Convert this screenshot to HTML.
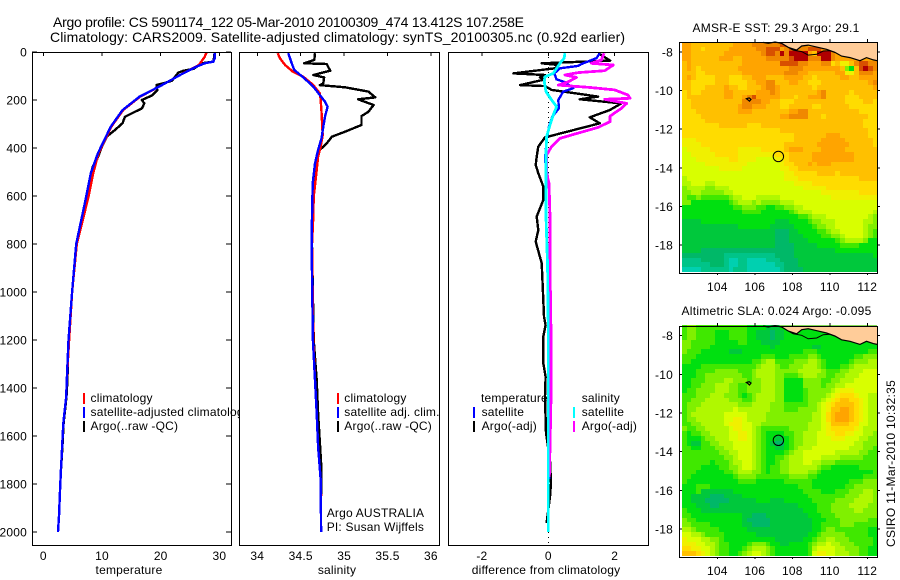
<!DOCTYPE html>
<html>
<head>
<meta charset="utf-8">
<title>Argo profile</title>
<style>
html,body{margin:0;padding:0;background:#fff;}
svg{display:block;}
text{font-family:"Liberation Sans",sans-serif;font-size:12px;fill:#000;letter-spacing:.2px;}
.crisp{shape-rendering:crispEdges;}
</style>
</head>
<body>
<svg id="chart" xmlns="http://www.w3.org/2000/svg" width="900" height="580" viewBox="0 0 900 580">
<rect width="900" height="580" fill="#fff"/>
<text x="53" y="27" style="font-size:14px;letter-spacing:0" textLength="471">Argo profile: CS 5901174_122 05-Mar-2010 20100309_474 13.412S 107.258E</text>
<text x="50" y="42" style="font-size:14px;letter-spacing:0" textLength="575">Climatology: CARS2009. Satellite-adjusted climatology: synTS_20100305.nc (0.92d earlier)</text>
<g id="p1"></g>
<g id="p2"></g>
<g id="p3"></g>
<g id="m1"></g>
<g id="m2"></g>
<text x="692.5" y="32" textLength="167">AMSR-E SST: 29.3 Argo: 29.1</text>
<text x="681.5" y="315" textLength="190">Altimetric SLA: 0.024 Argo: -0.095</text>
<text transform="translate(895,547) rotate(-90)" textLength="167">CSIRO 11-Mar-2010 10:32:35</text>
</svg>
<script>
/* ---------- profile data ---------- */
const tempClimDepth = [2,20,54,96,142,186,242,311,367,422,505,603,800,1000,1200,1367,1436,1547,1647,1745,1828,1925,2000];
const tempClimValue = [27.8,27.5,26.5,23.3,19.9,16.5,13.6,11.6,10.5,9.4,8.5,7.7,5.7,4.9,4.4,4.0,3.9,3.4,3.2,3.0,2.85,2.7,2.5];
const tempSatDepth = [2,26,40,47,61,96,142,186,242,311,367,422,505,603,800,1000,1200,1367,1436,1547,1647,1745,1828,1925,2000];
const tempSatValue = [29.2,29.2,29,27.5,26.1,23.3,19.9,16.4,13.5,11.5,10.4,9.3,8.1,7.3,5.6,4.9,4.3,4.0,3.9,3.4,3.2,3.0,2.85,2.7,2.5];
const tempArgoDepth = [2,40,47,70,78,86,120,130,137,160,180,200,214,235,253,270,297,325,353,394,450,478,561,603,800,1000,1200,1367,1436,1547,1647,1745,1828,1925,2000];
const tempArgoValue = [29.2,29,27,25.6,23.9,23,21.9,20.5,19.3,19.4,18.6,16.8,17.2,16.8,15.3,13.9,13.5,12.2,10.8,10,9.1,8.4,7.9,7.5,5.6,4.9,4.3,4.1,3.95,3.45,3.25,3.0,2.85,2.7,2.5];

const salClimDepth = [5,26,54,82,103,138,172,200,249,346,394,436,519,603,686,800,1200,1367,1505,1644,1783,1850];
const salClimValue = [34.235,34.26,34.32,34.41,34.53,34.645,34.72,34.73,34.74,34.753,34.73,34.70,34.676,34.65,34.645,34.63,34.645,34.665,34.684,34.70,34.73,34.735];
const salSatDepth = [5,47,75,106,144,179,207,228,269,311,360,408,464,547,686,800,1200,1367,1505,1644,1783,2000];
const salSatValue = [34.357,34.396,34.426,34.53,34.645,34.72,34.78,34.81,34.78,34.76,34.74,34.70,34.665,34.638,34.63,34.625,34.64,34.665,34.684,34.70,34.73,34.735];
const salArgoDepth = [5,33,47,50,78,96,106,131,138,147,165,189,197,221,249,267,304,332,353,381,408,450,533,686,800,1200,1367,1505,1713,1850];
const salArgoValue = [34.665,34.657,34.54,34.80,34.84,34.645,34.77,34.76,34.72,35.01,35.28,35.36,35.16,35.34,35.28,35.2,35.2,35.01,34.86,34.80,34.72,34.68,34.65,34.64,34.63,34.65,34.684,34.70,34.735,34.74];

const diffTempSatDepth = [5,26,50,58,68,89,114,126,151,165,200,235,269,311,367,450,533,617,895,1172,1367,1644,1780];
const diffTempSatValue = [1.55,1.45,1.0,.9,.35,.18,.25,.5,.75,.45,.3,.32,.12,.02,-.05,-.1,0,.05,.05,.08,.05,.05,.03];
const diffSalSatDepth = [5,26,47,89,103,124,165,200,228,262,304,353,422,505,686,895,1172,1367,1644,2000];
const diffSalSatValue = [.5,.48,.35,.15,-.1,-.12,-.07,.1,.25,.15,.05,-.05,-.07,-.07,-.07,-.02,0,0,0,0];
const diffTempArgoDepth = [5,36,47,54,68,89,96,106,114,138,142,158,186,197,214,242,272,297,356,394,436,471,505,561,617,686,742,790,880,1033,1103,1138,1186,1297,1353,1437,1588,1700,1797,1852,1962];
const diffTempArgoValue = [1.5,1.86,-.2,.3,.2,-1.05,-.1,-.25,-.1,-.85,-.1,.1,1.5,.95,2.2,1.85,1.25,1.55,-.1,-.3,-.35,-.38,-.3,-.15,-.15,-.35,-.3,-.38,-.2,-.15,-.13,-.08,-.15,-.15,-.08,-.1,-.07,.05,.08,.05,-.05];
const diffSalArgoDepth = [5,33,47,54,78,86,96,106,124,138,147,158,179,193,197,214,235,267,290,314,346,360,394,429,505,547,686,895,1172,1437,1644,1770];
const diffSalArgoValue = [1.68,1.6,1.3,1.96,1.7,.9,.5,.85,.6,.3,1.2,2,2.4,2.46,1.7,2.36,2.2,1.86,1.86,1.5,.7,.35,.1,-.05,-.05,.02,.05,.05,.08,.08,.05,.03];

/* ---------- axis ticks ---------- */
const depthTicks = [0,200,400,600,800,1000,1200,1400,1600,1800,2000];
const tempTicks = [0,10,20,30];
const salTicks = [34,34.5,35,35.5,36];
const diffTicks = [-2,0,2];
const lonTicks = [104,106,108,110,112];
const latTicks = [-8,-10,-12,-14,-16,-18];

/* ---------- map data ---------- */
const coastLon = [106.45,106.72,107.08,107.43,107.79,108.23,108.5,108.85,109.39,109.83,110.28,110.63,111.08,111.61,111.96,112.32,112.53];
const coastLat = [-7.5,-7.55,-7.48,-7.55,-7.76,-7.9,-7.69,-7.64,-7.76,-7.86,-8.02,-8.21,-8.29,-8.45,-8.29,-8.41,-8.45];
const coastInnerLon = [107.79,108.05,108.5,108.85,109.3,109.65,110,110.28];
const coastInnerLat = [-7.76,-7.9,-7.98,-8.16,-8.12,-7.95,-7.93,-8.02];
const islandLon = [105.55,105.7,105.8,105.72,105.62,105.55];
const islandLat = [-10.42,-10.38,-10.45,-10.55,-10.47,-10.42];
const profileLon = [107.258];
const profileLat = [-13.412];
const landLon = [107.3,107.43,107.79,108.23,108.5,108.85,109.39,109.83,110.28,110.63,111.08,111.61,111.96,112.32,112.53,112.53];
const landLat = [-7.47,-7.55,-7.76,-7.9,-7.69,-7.64,-7.76,-7.86,-8.02,-8.21,-8.29,-8.45,-8.29,-8.41,-8.45,-7.47];
const levelColors = ['#00d0b0','#00c488','#00b868','#00c83c','#00e010','#40e800','#80f000','#b0f800','#d8ff00','#f0f000','#ffdc00','#ffc000','#ffa400','#f08800','#d85000','#b00000'];

const sstGrid = [
[12,12,11,11,11,11,11,11,11,11,11,12,12,12,12,13,13,13,13,13,13,14,14,14,14,13,13,12,12,12,12,12,12,12,12,12,12,12,12,12,12,12],
[12,12,11,11,10,11,11,11,11,11,12,12,12,12,12,12,13,13,14,14,14,12,13,14,14,13,13,14,14,14,13,12,12,12,12,12,12,12,12,12,12,12],
[12,12,11,11,11,11,11,11,11,12,12,12,12,12,12,12,12,13,14,14,13,15,13,15,15,15,15,12,11,15,15,15,13,12,12,12,12,12,12,12,12,12],
[12,12,11,11,11,11,11,11,12,12,12,11,11,12,12,12,12,12,13,13,13,13,13,14,15,15,15,13,13,13,15,15,13,12,12,12,12,12,12,12,12,12],
[11,12,11,11,11,11,11,11,11,11,11,11,11,12,12,12,12,12,12,12,12,14,14,14,14,13,13,12,12,12,13,13,10,11,9,9,11,13,14,14,13,13],
[11,12,11,10,11,11,11,11,11,11,11,11,12,12,12,12,12,12,12,12,12,12,12,13,13,13,12,12,12,12,12,12,12,12,11,6,4,11,14,15,14,13],
[11,11,11,10,10,11,11,11,11,11,11,11,11,12,12,12,12,12,12,12,12,12,13,13,13,12,12,11,11,11,11,11,11,12,12,9,9,11,13,13,13,12],
[11,12,11,10,10,10,10,11,11,11,10,10,10,11,11,12,12,12,11,11,11,11,12,12,12,12,11,11,10,11,11,11,11,11,12,12,11,11,12,12,12,12],
[11,11,10,10,10,10,10,11,11,11,10,10,10,10,11,11,12,12,13,13,11,11,11,12,12,11,11,10,10,10,11,11,11,11,11,11,11,11,11,11,12,13],
[11,11,10,10,10,11,11,11,11,12,11,11,10,10,11,11,11,12,13,13,12,11,11,11,11,11,11,11,10,11,11,11,11,11,11,11,11,11,11,11,11,12],
[10,11,10,10,11,11,11,11,11,12,12,11,11,11,11,11,12,12,12,13,12,11,11,11,11,11,11,11,11,12,13,11,11,11,11,11,10,11,11,11,11,11],
[10,11,11,11,11,11,11,11,11,12,12,11,11,12,13,14,12,12,12,12,12,11,11,11,10,11,11,12,12,12,13,11,11,11,11,10,10,10,11,11,11,11],
[10,10,11,11,11,11,11,11,11,11,11,11,11,13,13,13,13,12,12,11,11,10,10,10,11,11,11,11,11,11,11,11,11,11,11,10,10,10,10,11,11,10],
[10,10,11,11,11,11,11,11,11,11,11,11,12,13,13,12,12,12,11,11,11,10,10,11,11,11,11,11,10,10,11,11,11,11,11,11,10,10,10,10,10,10],
[10,10,10,11,11,11,11,11,11,11,11,11,12,12,12,11,11,11,11,11,11,11,11,12,12,13,13,11,11,11,11,11,11,11,11,11,11,11,10,10,10,10],
[10,10,10,10,11,11,11,11,11,11,11,11,11,11,11,11,11,11,11,11,11,12,12,13,13,13,13,11,11,11,10,11,11,11,11,11,11,11,11,11,10,10],
[10,10,10,10,10,11,11,11,11,11,11,11,11,11,11,11,11,11,11,11,11,11,11,11,11,11,11,11,11,11,11,11,11,11,11,11,11,11,11,10,10,10],
[10,10,10,10,10,10,10,10,11,11,11,11,11,11,10,10,10,11,11,11,11,11,11,11,11,11,11,11,11,11,11,11,11,11,11,11,11,11,11,10,10,10],
[10,10,10,10,10,10,10,10,10,10,10,10,10,10,10,10,10,10,10,10,10,11,11,11,11,11,11,11,11,11,11,11,11,11,11,11,11,11,11,11,10,10],
[10,10,10,10,10,10,10,10,10,10,10,10,10,10,10,10,10,10,10,10,10,10,10,10,11,11,11,11,11,11,11,12,12,12,11,11,11,11,11,11,10,10],
[9,9,9,10,10,10,10,10,10,10,10,10,10,10,10,10,10,10,10,10,10,10,10,10,11,11,11,11,11,11,12,12,12,12,12,11,11,11,11,11,11,10],
[9,9,9,9,10,10,10,10,10,10,10,10,10,10,10,10,10,10,10,10,10,10,11,11,11,11,11,11,11,12,12,12,12,12,12,12,11,11,11,11,11,10],
[8,9,9,9,9,9,10,10,10,10,10,10,9,9,9,9,9,10,10,10,10,10,11,12,12,12,11,11,11,11,12,12,12,12,12,11,11,11,11,11,11,11],
[8,8,9,9,9,9,9,10,10,10,10,10,9,9,9,9,9,9,9,9,10,10,10,11,11,11,11,11,12,12,12,12,12,12,12,12,12,11,11,11,11,11],
[8,8,8,9,9,9,9,9,9,9,10,10,9,9,9,9,8,8,8,8,9,9,10,11,11,11,11,11,12,12,12,12,12,12,12,12,12,11,11,11,11,11],
[8,8,8,8,8,9,9,9,9,9,9,9,9,9,8,8,8,8,8,8,8,9,10,10,11,11,11,12,11,12,12,12,11,11,11,11,11,11,11,11,11,11],
[8,8,8,8,8,8,8,8,9,9,9,9,9,8,8,8,8,8,8,8,8,9,9,10,10,11,11,11,11,11,11,11,11,11,11,11,11,11,11,11,11,11],
[8,8,8,8,8,8,8,8,8,8,8,8,8,8,8,8,8,8,8,8,8,8,9,9,10,10,10,10,10,11,11,11,11,10,11,11,11,11,11,11,11,11],
[7,8,8,8,8,8,8,8,8,8,8,8,8,8,8,8,8,8,8,8,8,8,9,9,9,10,10,10,10,10,10,10,10,10,10,10,10,10,11,11,11,11],
[7,7,8,8,8,7,7,8,8,8,8,8,8,8,8,8,8,8,8,8,8,8,8,8,9,9,9,9,10,10,10,10,10,10,10,10,10,10,10,10,10,10],
[6,7,7,7,7,6,6,7,7,7,8,8,8,8,8,8,8,8,8,8,8,8,8,8,8,8,9,9,9,9,9,10,10,10,10,10,10,10,10,10,10,10],
[6,6,7,7,6,6,6,6,6,7,7,8,8,8,8,8,8,8,8,8,8,8,8,8,8,8,8,8,8,8,9,9,9,9,9,9,9,9,10,10,10,10],
[6,5,5,6,5,5,5,5,5,5,6,7,7,8,8,8,7,7,7,7,7,8,8,8,8,8,8,8,8,8,8,8,9,9,9,9,9,9,9,9,9,9],
[6,6,4,4,4,4,4,4,4,4,5,6,7,7,7,6,7,6,6,6,6,7,7,7,8,8,8,8,8,8,8,8,8,8,8,8,8,8,8,8,8,8],
[4,4,4,4,4,4,4,4,4,4,4,5,5,6,6,6,5,5,4,4,5,5,6,6,7,7,8,8,8,8,8,8,8,8,8,8,8,8,8,8,8,8],
[4,4,4,4,4,4,4,4,4,4,4,4,4,5,5,5,5,4,4,4,4,4,4,5,6,7,7,7,8,8,8,8,8,8,8,8,8,8,8,8,8,7],
[4,4,4,4,4,4,4,4,4,4,4,4,4,4,4,4,4,4,4,4,4,4,4,4,4,5,5,6,7,7,7,8,8,8,8,8,8,8,8,8,7,6],
[3,3,3,3,4,4,4,4,4,4,4,4,4,4,4,4,4,4,4,4,3,3,3,4,4,4,4,5,6,6,7,7,7,8,8,8,8,8,8,7,7,6],
[3,3,3,3,3,3,3,3,3,3,3,3,4,4,4,4,4,4,4,3,3,3,3,3,4,4,4,4,5,6,6,7,7,8,8,8,8,8,8,7,6,6],
[3,3,3,3,3,3,3,3,3,3,3,3,3,3,3,3,3,3,3,3,2,2,2,3,3,4,4,4,4,5,5,6,7,7,8,8,8,8,8,7,6,5],
[3,3,3,3,3,3,3,3,3,3,3,3,3,3,3,3,3,3,3,3,2,2,2,3,3,3,4,4,4,4,5,5,6,6,7,8,8,8,8,7,6,5],
[3,3,3,3,3,3,3,3,3,3,3,3,3,3,3,3,3,3,3,3,2,2,2,3,3,3,3,4,4,4,4,4,4,5,6,7,7,7,7,6,4,4],
[3,3,3,3,3,3,3,3,3,3,3,3,3,3,3,3,3,3,3,3,2,2,2,2,3,3,3,3,3,4,4,4,4,4,5,5,5,5,4,4,4,4],
[3,3,3,3,2,2,2,2,2,2,2,2,2,2,2,2,2,2,2,2,2,2,2,2,3,3,3,3,3,3,3,3,3,4,4,4,4,4,4,4,4,4],
[2,2,2,2,2,2,2,2,2,1,1,1,1,1,1,1,1,1,1,1,2,2,2,2,3,3,3,3,3,3,3,3,3,3,3,3,3,3,3,3,3,4],
[1,1,1,1,2,2,2,2,2,1,0,0,1,1,0,0,0,0,1,1,1,2,2,2,2,3,3,3,3,3,3,3,3,3,3,3,3,3,3,3,3,3],
[1,1,1,1,1,1,2,2,2,1,0,0,1,1,0,0,0,0,0,0,1,1,2,2,2,3,3,3,3,3,3,3,3,3,3,3,3,3,3,3,3,3],
[0,0,0,0,1,1,1,1,1,1,0,1,1,1,0,0,0,0,0,0,0,1,2,2,2,2,3,3,3,3,3,3,3,3,3,3,3,3,3,3,3,3]
];

const slaGrid = [
[5,6,6,5,5,5,5,5,5,5,5,5,5,5,4,4,4,4,3,3,3,4,4,4,4,4,4,4,4,4,4,4,4,4,4,4,4,4,4,4,4,4],
[5,6,6,5,5,5,5,4,4,4,5,5,5,5,4,4,3,3,3,2,3,3,4,4,4,4,4,4,4,4,4,4,4,4,4,4,4,4,4,4,4,4],
[5,6,6,5,5,5,5,4,4,4,5,5,5,5,4,4,3,3,3,2,3,3,4,4,4,4,4,4,4,4,4,4,4,4,4,4,4,4,4,4,4,4],
[6,6,5,5,5,5,5,4,4,4,4,4,5,5,4,4,4,3,3,3,3,4,4,4,4,4,4,4,4,4,4,4,4,4,4,4,4,4,4,4,4,4],
[6,6,5,5,5,5,4,4,4,4,4,4,4,4,4,4,4,4,4,3,4,4,4,4,4,4,4,4,3,3,4,4,4,4,4,4,4,4,4,4,4,4],
[6,5,5,5,4,4,4,4,4,4,3,3,3,4,4,4,4,4,4,4,4,4,4,4,4,4,5,5,5,4,4,4,4,4,4,4,4,4,4,4,5,5],
[5,5,5,4,4,4,4,4,4,4,4,4,4,4,4,4,4,5,5,5,4,4,4,5,5,5,5,6,6,5,4,4,4,4,4,4,4,5,5,6,6,6],
[5,5,4,4,4,4,4,4,4,4,4,4,4,4,4,5,5,6,7,7,5,5,5,5,6,6,6,7,7,6,5,4,4,4,4,4,5,6,6,6,7,7],
[4,4,4,4,5,5,5,5,5,5,5,5,5,5,5,5,6,7,7,7,6,5,5,6,6,6,7,7,7,6,5,4,4,4,5,5,6,7,7,7,7,7],
[4,4,4,5,5,5,5,6,6,6,6,6,5,5,5,6,7,7,7,7,6,6,6,6,6,7,7,7,7,7,6,5,5,5,6,6,7,7,7,8,8,8],
[4,4,4,5,5,6,6,6,6,6,6,6,6,5,5,6,7,7,7,7,6,6,5,5,5,6,7,7,7,6,6,5,5,6,6,7,7,7,8,8,8,8],
[4,4,5,5,5,6,6,6,6,7,7,6,6,6,5,6,6,7,7,7,6,6,4,4,4,4,6,6,6,6,5,5,6,6,7,7,7,8,8,8,8,8],
[4,4,5,5,6,6,6,7,7,7,6,6,5,5,6,6,6,7,7,7,6,6,4,4,4,4,6,6,6,6,5,6,6,7,7,8,8,8,8,8,8,8],
[4,5,5,6,6,6,6,7,7,7,6,6,5,5,6,6,6,7,7,7,6,6,4,4,4,4,5,6,6,6,6,6,7,8,9,9,9,8,8,8,8,8],
[5,5,5,6,6,6,7,7,7,6,6,6,5,4,5,6,7,7,7,7,6,6,4,4,4,4,5,6,6,6,6,7,8,9,10,10,10,9,8,8,7,7],
[5,5,6,6,6,7,7,7,7,7,6,6,6,5,5,6,7,7,7,7,6,6,4,4,4,4,5,6,6,6,7,8,9,10,11,11,10,10,9,8,7,7],
[5,6,6,6,7,7,7,7,7,7,7,7,6,6,6,7,7,7,7,6,6,6,5,5,5,5,5,6,6,7,8,9,10,11,11,11,11,10,9,8,7,7],
[5,6,6,7,7,7,7,7,7,7,7,8,7,7,7,7,7,7,7,6,6,6,5,5,5,6,6,6,6,7,8,9,11,11,12,12,11,10,9,8,7,7],
[5,6,7,7,7,7,7,7,7,8,8,8,8,8,7,7,7,7,6,6,6,6,6,6,6,6,6,6,7,7,8,10,11,12,12,12,11,10,9,8,7,7],
[5,6,6,7,7,7,7,7,7,8,8,9,9,8,7,7,7,7,6,6,6,6,6,6,6,6,6,6,7,7,8,10,11,12,12,12,11,10,9,8,7,7],
[5,5,6,6,7,7,7,7,7,8,9,9,9,8,8,7,7,6,6,6,6,6,6,6,6,6,6,7,7,7,8,9,11,11,11,11,10,10,8,8,7,7],
[6,5,5,6,6,7,7,7,7,7,8,9,9,8,8,7,6,5,5,5,5,5,5,6,6,6,6,7,7,7,8,9,10,10,10,10,10,9,8,7,7,7],
[5,4,5,5,6,6,7,7,7,7,8,8,9,9,8,7,6,5,4,4,4,4,5,5,6,6,7,7,7,8,8,9,9,10,10,9,9,8,8,7,7,6],
[5,4,4,4,5,6,6,7,7,7,8,8,9,9,8,7,6,5,4,4,3,3,4,5,6,6,7,7,7,8,8,8,9,9,9,8,8,8,7,7,6,6],
[5,4,3,3,5,5,6,6,7,7,7,8,8,8,8,7,6,5,4,3,2,2,4,5,6,6,7,7,7,8,8,8,8,8,8,8,8,7,7,6,6,6],
[5,5,4,4,5,5,5,6,6,7,7,8,8,8,8,7,6,5,4,4,3,3,4,5,6,7,7,7,8,8,8,8,8,8,8,8,7,7,7,6,6,5],
[5,5,5,5,5,5,5,5,6,6,7,7,8,8,8,7,6,5,4,4,4,4,5,6,7,7,8,8,8,8,8,8,8,7,7,7,7,7,6,6,5,5],
[5,5,5,5,5,5,5,5,5,6,6,7,8,8,8,7,6,5,4,4,5,5,6,7,7,7,8,8,8,8,7,7,7,7,6,6,6,6,6,5,5,5],
[5,5,5,5,5,5,4,5,5,5,6,7,7,8,8,7,6,5,4,4,5,6,6,7,7,7,8,8,7,7,6,6,6,5,5,5,5,5,5,5,5,5],
[5,5,5,5,4,4,4,4,5,5,6,6,7,8,8,7,6,5,4,5,5,6,6,7,7,7,7,7,7,6,5,5,4,4,4,4,4,4,5,5,5,5],
[5,5,5,4,4,4,4,4,4,5,5,6,7,7,7,6,6,5,4,5,5,6,6,7,7,7,7,6,6,5,4,4,4,4,4,4,4,4,4,4,4,5],
[5,5,4,4,4,4,4,4,4,4,4,5,6,6,6,6,5,5,5,5,5,5,5,6,6,6,6,5,5,4,4,4,4,4,4,4,4,4,4,5,5,5],
[5,4,4,4,4,4,4,4,4,4,4,4,5,5,5,5,4,4,4,4,4,4,5,5,5,5,5,5,4,4,4,4,4,4,4,4,5,5,5,6,6,6],
[4,4,4,5,5,5,4,4,4,4,4,4,4,4,4,4,4,4,4,4,4,4,4,4,4,5,5,5,4,4,4,4,4,4,4,5,5,6,6,6,6,6],
[4,4,4,5,3,3,3,3,3,3,3,4,4,4,4,4,4,4,4,4,4,4,4,4,4,4,5,5,5,5,4,4,4,5,5,5,6,6,6,7,7,6],
[4,4,3,3,3,3,2,2,2,3,3,3,3,4,4,4,4,4,4,4,4,4,4,4,4,4,4,5,5,5,5,5,5,5,5,6,6,6,7,7,7,6],
[4,4,3,3,3,2,2,2,2,2,3,3,3,3,3,3,4,4,4,3,3,3,4,4,4,4,4,4,5,5,5,5,5,6,6,6,6,7,7,7,7,6],
[4,4,4,3,3,3,2,2,3,3,3,3,3,3,3,3,3,3,3,3,3,3,3,3,3,4,4,4,4,5,5,5,6,6,6,6,7,7,7,7,6,6],
[5,4,4,4,3,3,3,3,3,3,3,3,3,3,3,3,3,3,3,3,3,3,3,3,3,3,4,4,4,5,5,5,6,6,6,6,6,7,7,6,6,6],
[5,5,4,4,4,4,4,4,4,4,4,4,4,3,3,2,2,2,3,3,3,3,3,3,3,3,3,4,4,4,5,5,5,6,6,6,6,6,6,6,6,6],
[6,5,5,4,4,4,4,4,4,4,4,4,4,3,2,2,2,2,2,3,3,3,3,3,3,3,3,3,4,4,4,5,5,5,6,6,6,6,6,6,5,5],
[6,6,5,5,5,5,4,4,4,4,4,4,4,3,3,2,2,2,2,3,3,3,3,3,3,3,3,3,4,4,5,5,5,5,6,6,6,5,5,5,5,5],
[7,7,6,5,5,5,5,5,4,4,4,4,4,4,3,3,3,3,3,3,3,3,3,3,3,3,3,3,4,4,5,6,6,5,5,5,5,5,5,5,4,4],
[8,8,7,7,6,5,5,5,5,4,4,4,4,4,4,4,3,3,3,3,3,3,3,3,3,3,3,4,4,5,6,6,6,6,6,5,5,5,5,5,4,4],
[9,8,8,8,7,7,6,6,5,4,4,4,4,4,4,4,4,4,4,4,3,3,3,3,3,3,4,4,5,6,6,7,7,6,6,6,5,5,5,5,5,4],
[9,9,9,8,8,7,7,6,5,5,4,4,4,4,5,6,6,6,5,4,4,3,3,4,4,4,4,5,6,7,7,8,7,7,6,6,6,5,5,5,5,4],
[10,10,9,9,8,8,7,6,5,5,4,4,4,5,6,7,7,7,6,5,4,4,4,4,4,4,4,5,7,8,8,8,8,7,7,6,6,6,5,5,4,4],
[11,11,11,10,9,8,7,6,5,5,4,4,5,6,7,8,8,7,6,5,4,4,4,4,4,4,4,5,8,9,9,8,8,7,7,7,6,6,5,5,4,4]
];

/* ---------- axis functions ---------- */
const NS = 'http://www.w3.org/2000/svg';
const depthY = d => 52 + 0.24 * d;
const tempX = v => 43.3 + 5.87 * v;
const salX = v => 257.3 + 86.8 * (v - 34);
const diffX = v => 548.3 + 33.2 * v;
const lonX = v => 717.3 + 18.75 * (v - 104);
const lat1Y = v => 52 + 19.3 * (-8 - v);
const lat2Y = v => 335.7 + 19.33 * (-8 - v);

function mk(parent, tag, attrs, text) {
  const e = document.createElementNS(NS, tag);
  for (const k in attrs) e.setAttribute(k, attrs[k]);
  if (text !== undefined) e.textContent = text;
  parent.appendChild(e);
  return e;
}
function profile(parent, depths, values, xf, color, width) {
  const pts = depths.map((d, i) => xf(values[i]).toFixed(1) + ',' + depthY(d).toFixed(1)).join(' ');
  return mk(parent, 'polyline', {points: pts, fill: 'none', stroke: color, 'stroke-width': width === undefined ? 2.4 : width, 'stroke-linejoin': 'round', 'shape-rendering': 'crispEdges'});
}
function legendBar(parent, x, y, color) {
  return mk(parent, 'rect', {x: x, y: y, width: 2, height: 11, fill: color, class: 'crisp'});
}
function frame(parent, x0, x1) {
  return mk(parent, 'rect', {x: x0 + .5, y: 52.5, width: x1 - x0, height: 493, fill: 'none', stroke: '#000', 'stroke-width': 1, class: 'crisp'});
}
function topTick(parent, x) {
  return mk(parent, 'line', {x1: x, x2: x, y1: 52, y2: 56, stroke: '#000', class: 'crisp'});
}

const p1 = document.getElementById('p1');
const p2 = document.getElementById('p2');
const p3 = document.getElementById('p3');
const m1 = document.getElementById('m1');
const m2 = document.getElementById('m2');
let el;

/* ---------- panel 1 : temperature ---------- */
el = mk(p1, 'rect', {x: 32, y: 52, width: 199, height: 493, fill: '#fff'});


el = profile(p1, tempArgoDepth, tempArgoValue, tempX, '#000');


el = profile(p1, tempClimDepth, tempClimValue, tempX, '#f00');


el = profile(p1, tempSatDepth, tempSatValue, tempX, '#00f');


depthTicks.forEach(d => {
  el = mk(p1, 'line', {x1: 32, x2: 37, y1: depthY(d), y2: depthY(d), stroke: '#000', class: 'crisp'});
  
  
  el = mk(p1, 'line', {x1: 226, x2: 231, y1: depthY(d), y2: depthY(d), stroke: '#000', class: 'crisp'});
  
  
  el = mk(p1, 'text', {x: 27, y: depthY(d) + 4.5, 'text-anchor': 'end'}, String(d));
  
  
});
tempTicks.forEach(v => {
  el = topTick(p1, tempX(v));
  
  
  el = mk(p1, 'text', {x: tempX(v), y: 560, 'text-anchor': 'middle'}, String(v));
  
  
});
el = frame(p1, 32, 231);


el = mk(p1, 'text', {x: 129, y: 574, 'text-anchor': 'middle'}, 'temperature');


el = legendBar(p1, 83, 393, '#f00');


el = legendBar(p1, 83, 407, '#00f');


el = legendBar(p1, 83, 421, '#000');


el = mk(p1, 'text', {x: 90.5, y: 402}, 'climatology');


el = mk(p1, 'text', {x: 90.5, y: 416}, 'satellite-adjusted climatology');


el = mk(p1, 'text', {x: 90.5, y: 430}, 'Argo(..raw -QC)');



/* ---------- panel 2 : salinity ---------- */
el = mk(p2, 'rect', {x: 239, y: 52, width: 200, height: 493, fill: '#fff'});


el = profile(p2, salArgoDepth, salArgoValue, salX, '#000');


el = profile(p2, salClimDepth, salClimValue, salX, '#f00');


el = profile(p2, salSatDepth, salSatValue, salX, '#00f');


salTicks.forEach(v => {
  el = topTick(p2, salX(v));
  
  
  el = mk(p2, 'text', {x: salX(v), y: 560, 'text-anchor': 'middle'}, String(v));
  
  
});
el = frame(p2, 239, 439);


el = mk(p2, 'text', {x: 337, y: 574, 'text-anchor': 'middle'}, 'salinity');


el = legendBar(p2, 337, 393, '#f00');


el = legendBar(p2, 337, 407, '#00f');


el = legendBar(p2, 337, 421, '#000');


el = mk(p2, 'text', {x: 344.3, y: 402}, 'climatology');


el = mk(p2, 'text', {x: 344.3, y: 416}, 'satellite adj. clim.');


el = mk(p2, 'text', {x: 344.3, y: 430}, 'Argo(..raw -QC)');


el = mk(p2, 'text', {x: 326.7, y: 517}, 'Argo AUSTRALIA');


el = mk(p2, 'text', {x: 326.7, y: 531}, 'PI: Susan Wijffels');



/* ---------- panel 3 : differences ---------- */
el = mk(p3, 'rect', {x: 448, y: 52, width: 200, height: 493, fill: '#fff'});


el = mk(p3, 'line', {x1: diffX(0), x2: diffX(0), y1: 52, y2: 545, stroke: '#000', 'stroke-dasharray': '1 4', class: 'crisp'});


el = profile(p3, diffTempArgoDepth, diffTempArgoValue, diffX, '#000');


el = profile(p3, diffTempSatDepth, diffTempSatValue, diffX, '#00f');


el = profile(p3, diffSalArgoDepth, diffSalArgoValue, diffX, '#f0f', 2.8);


el = profile(p3, diffSalSatDepth, diffSalSatValue, diffX, '#0ff', 2.8);


diffTicks.forEach(v => {
  el = topTick(p3, diffX(v));
  
  
  el = mk(p3, 'text', {x: diffX(v), y: 560, 'text-anchor': 'middle'}, String(v));
  
  
});
el = frame(p3, 448, 648);


el = mk(p3, 'text', {x: 546, y: 574, 'text-anchor': 'middle'}, 'difference from climatology');


el = mk(p3, 'text', {x: 481, y: 402}, 'temperature');


el = mk(p3, 'text', {x: 481.6, y: 416}, 'satellite');


el = mk(p3, 'text', {x: 481.6, y: 430}, 'Argo(-adj)');


el = mk(p3, 'text', {x: 581.7, y: 402}, 'salinity');


el = mk(p3, 'text', {x: 581.7, y: 416}, 'satellite');


el = mk(p3, 'text', {x: 581.7, y: 430}, 'Argo(-adj)');


el = legendBar(p3, 473, 407, '#00f');


el = legendBar(p3, 473, 421, '#000');


el = legendBar(p3, 573, 407, '#0ff');


el = legendBar(p3, 573, 421, '#f0f');



/* ---------- maps ---------- */
function drawCells(parent, grid, latY) {
  const lonStart = 102.12, lonStep = (112.53 - 102.12) / 42;
  const latStart = -7.47, latStep = -0.2485;
  grid.forEach((row, r) => {
    row.forEach((value, c) => {
      const x0 = Math.round(lonX(lonStart + c * lonStep));
      const x1 = Math.round(lonX(lonStart + (c + 1) * lonStep));
      const y0 = Math.round(latY(latStart + r * latStep));
      const y1 = Math.round(latY(latStart + (r + 1) * latStep));
      const cell = mk(parent, 'rect', {x: x0, y: y0, width: x1 - x0, height: y1 - y0, fill: levelColors[value], class: 'crisp'});
      
      
    });
  });
}
function pathFrom(lons, lats, latY) {
  return lons.map((v, i) => lonX(v).toFixed(1) + ',' + latY(lats[i]).toFixed(1)).join(' ');
}
function drawMap(parent, grid, latY, top, bottom) {
  drawCells(parent, grid, latY);
  el = mk(parent, 'polygon', {points: pathFrom(landLon, landLat, latY), fill: '#ffcc99', 'shape-rendering': 'crispEdges'});
  
  
  el = mk(parent, 'polyline', {points: pathFrom(coastLon, coastLat, latY), fill: 'none', stroke: '#000', 'stroke-width': 1.2});
  
  
  el = mk(parent, 'polyline', {points: pathFrom(coastInnerLon, coastInnerLat, latY), fill: 'none', stroke: '#000', 'stroke-width': 1});
  
  
  el = mk(parent, 'polygon', {points: pathFrom(islandLon, islandLat, latY), fill: 'none', stroke: '#000', 'stroke-width': 1.2});
  
  
  el = mk(parent, 'circle', {cx: lonX(profileLon[0]), cy: latY(profileLat[0]), r: 5.2, fill: 'none', stroke: '#000', 'stroke-width': 1});
  
  
  el = mk(parent, 'rect', {x: 679.5, y: top + .5, width: 198, height: bottom - top, fill: 'none', stroke: '#000', 'stroke-width': 1, class: 'crisp'});
  
  
  lonTicks.forEach(v => {
    el = mk(parent, 'line', {x1: lonX(v), x2: lonX(v), y1: top - 3, y2: top, stroke: '#000', class: 'crisp'});
    
    
    el = mk(parent, 'line', {x1: lonX(v), x2: lonX(v), y1: bottom, y2: bottom + 2, stroke: '#000', class: 'crisp'});
    
    
    el = mk(parent, 'text', {x: lonX(v), y: bottom + 18, 'text-anchor': 'middle'}, String(v));
    
    
  });
  latTicks.forEach(v => {
    el = mk(parent, 'line', {x1: 877, x2: 880, y1: latY(v), y2: latY(v), stroke: '#000', class: 'crisp'});
    
    
    el = mk(parent, 'line', {x1: 679, x2: 682, y1: latY(v), y2: latY(v), stroke: '#000', class: 'crisp'});
    
    
    el = mk(parent, 'text', {x: 673, y: latY(v) + 4.5, 'text-anchor': 'end'}, String(v));
    
    
  });
}
drawMap(m1, sstGrid, lat1Y, 42, 273);
drawMap(m2, slaGrid, lat2Y, 326, 557);
</script>
</body>
</html>
